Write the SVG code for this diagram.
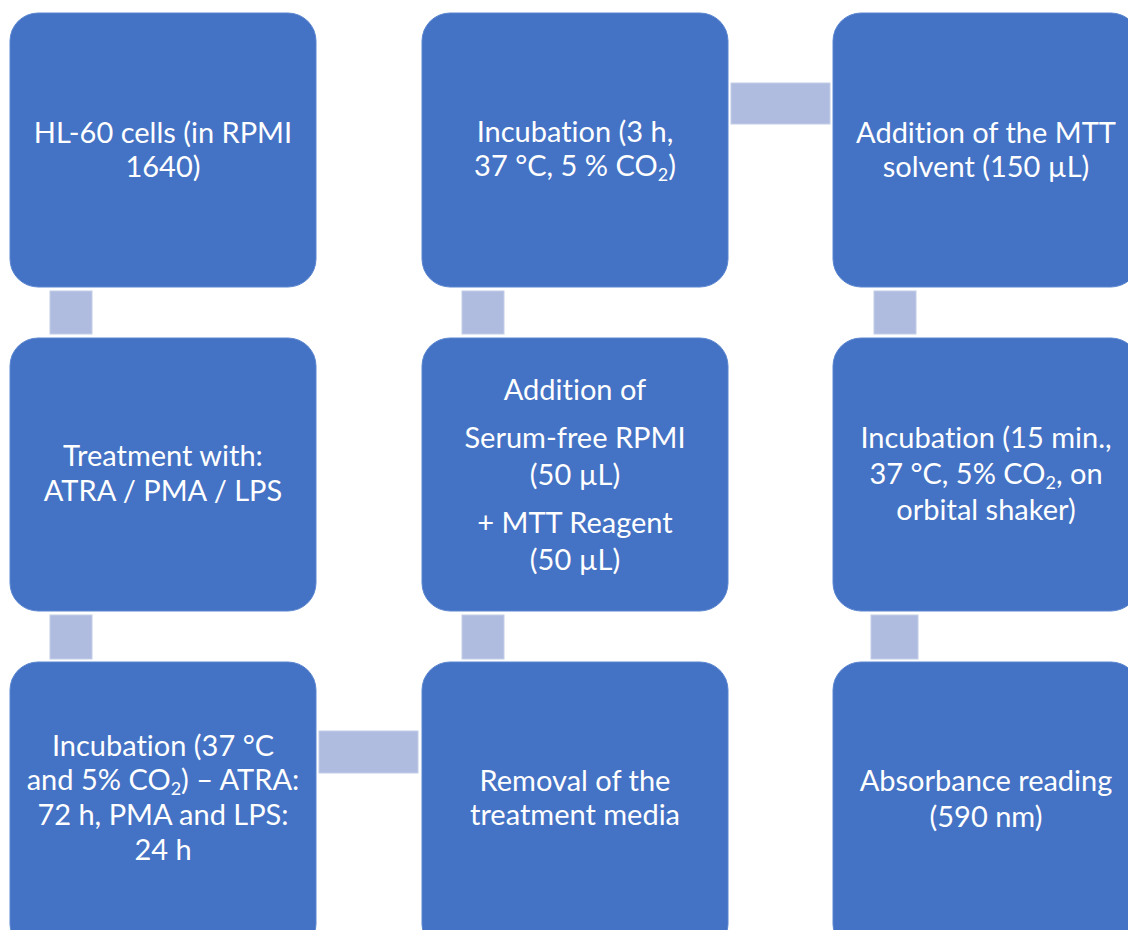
<svg xmlns="http://www.w3.org/2000/svg" width="1128" height="930" viewBox="0 0 1128 930">
<style>
.box{fill:#4472C4;stroke:#5B86D0;stroke-width:1}
.con{fill:#B0BCDF;stroke:#C4CDE8;stroke-width:1}
text{font-family:Lato,"Open Sans",sans-serif;font-size:29px;fill:#FFFFFF;text-anchor:middle;font-variant-ligatures:none}
.sub{font-size:18px}
</style>
<rect width="1128" height="930" fill="#FFFFFF"/>
<g id="connectors">
<rect class="con" x="50" y="291" width="42" height="43"/>
<rect class="con" x="50" y="615" width="42" height="44"/>
<rect class="con" x="319" y="731" width="99" height="42"/>
<rect class="con" x="462" y="615" width="42" height="44"/>
<rect class="con" x="462" y="291" width="42" height="43"/>
<rect class="con" x="731" y="83" width="99" height="41"/>
<rect class="con" x="874" y="291" width="42" height="43"/>
<rect class="con" x="871" y="615" width="47" height="44"/>
</g>
<g id="n1">
<rect class="box" x="10" y="13" width="306" height="274" rx="28"/>
<text x="163" y="143">HL-60 cells (in RPMI</text>
<text x="163" y="177">1640)</text>
</g>
<g id="n2">
<rect class="box" x="10" y="338" width="306" height="273" rx="28"/>
<text x="163" y="466">Treatment with:</text>
<text x="163" y="501">ATRA / PMA / LPS</text>
</g>
<g id="n3">
<rect class="box" x="10" y="662" width="306" height="290" rx="28"/>
<text x="163" y="756">Incubation (37 °C</text>
<text x="163" y="790">and 5% CO<tspan class="sub" dy="5">2</tspan><tspan dy="-5">) – ATRA:</tspan></text>
<text x="163" y="825">72 h, PMA and LPS:</text>
<text x="163" y="860">24 h</text>
</g>
<g id="n4">
<rect class="box" x="422" y="662" width="306" height="290" rx="28"/>
<text x="575" y="791">Removal of the</text>
<text x="575" y="825">treatment media</text>
</g>
<g id="n5">
<rect class="box" x="422" y="338" width="306" height="273" rx="28"/>
<text x="575" y="400">Addition of</text>
<text x="575" y="448">Serum-free RPMI</text>
<text x="575" y="485">(50 µL)</text>
<text x="575" y="533">+ MTT Reagent</text>
<text x="575" y="570">(50 µL)</text>
</g>
<g id="n6">
<rect class="box" x="422" y="13" width="306" height="274" rx="28"/>
<text x="575" y="142">Incubation (3 h,</text>
<text x="575" y="176">37 °C, 5 % CO<tspan class="sub" dy="5">2</tspan><tspan dy="-5">)</tspan></text>
</g>
<g id="n7">
<rect class="box" x="833" y="13" width="306" height="274" rx="28"/>
<text x="986" y="143">Addition of the MTT</text>
<text x="986" y="177">solvent (150 µL)</text>
</g>
<g id="n8">
<rect class="box" x="833" y="338" width="306" height="273" rx="28"/>
<text x="986" y="448">Incubation (15 min.,</text>
<text x="986" y="484">37 °C, 5% CO<tspan class="sub" dy="5">2</tspan><tspan dy="-5">, on</tspan></text>
<text x="986" y="520">orbital shaker)</text>
</g>
<g id="n9">
<rect class="box" x="833" y="662" width="306" height="290" rx="28"/>
<text x="986" y="791">Absorbance reading</text>
<text x="986" y="827">(590 nm)</text>
</g>
</svg>
